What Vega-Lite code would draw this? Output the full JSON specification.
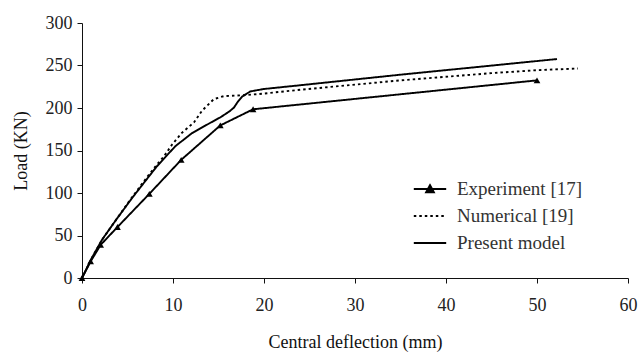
{
  "$schema": "https://vega.github.io/schema/vega-lite/v6.json",
  "autosize": {"type": "none"},
  "width": 546,
  "height": 255,
  "padding": {"left": 82, "top": 23, "right": 15, "bottom": 83},
  "background": "white",
  "config": {
    "view": {"stroke": null},
    "font": "Liberation Serif",
    "axis": {
      "grid": false,
      "domainColor": "#111",
      "domainWidth": 1,
      "tickColor": "#111",
      "tickSize": 5,
      "labelFont": "Liberation Serif",
      "labelFontSize": 18,
      "labelColor": "#222",
      "titleFont": "Liberation Serif",
      "titleFontSize": 18,
      "titleFontWeight": "normal",
      "titleColor": "#111"
    }
  },
  "data": {
    "values": [
      {"series": "Experiment [17]", "x": 0, "y": 0},
      {"series": "Experiment [17]", "x": 0.95, "y": 19.5},
      {"series": "Experiment [17]", "x": 2.05, "y": 39},
      {"series": "Experiment [17]", "x": 3.9, "y": 60},
      {"series": "Experiment [17]", "x": 7.4, "y": 99},
      {"series": "Experiment [17]", "x": 10.9, "y": 139},
      {"series": "Experiment [17]", "x": 15.2, "y": 179.5},
      {"series": "Experiment [17]", "x": 18.8, "y": 198.5},
      {"series": "Experiment [17]", "x": 50, "y": 232.5},
      {"series": "Numerical [19]", "x": 0, "y": 0},
      {"series": "Numerical [19]", "x": 1, "y": 22},
      {"series": "Numerical [19]", "x": 2.2, "y": 45},
      {"series": "Numerical [19]", "x": 3.85, "y": 70},
      {"series": "Numerical [19]", "x": 5.5, "y": 95},
      {"series": "Numerical [19]", "x": 7.1, "y": 118},
      {"series": "Numerical [19]", "x": 8.2, "y": 133},
      {"series": "Numerical [19]", "x": 9, "y": 143},
      {"series": "Numerical [19]", "x": 9.9, "y": 157},
      {"series": "Numerical [19]", "x": 11, "y": 171},
      {"series": "Numerical [19]", "x": 12.3, "y": 183},
      {"series": "Numerical [19]", "x": 13.2, "y": 197},
      {"series": "Numerical [19]", "x": 14.5, "y": 210.5},
      {"series": "Numerical [19]", "x": 15.6, "y": 214},
      {"series": "Numerical [19]", "x": 17.8, "y": 215},
      {"series": "Numerical [19]", "x": 20, "y": 217},
      {"series": "Numerical [19]", "x": 24, "y": 221.5},
      {"series": "Numerical [19]", "x": 35, "y": 232.5},
      {"series": "Numerical [19]", "x": 45, "y": 241},
      {"series": "Numerical [19]", "x": 50, "y": 244.5},
      {"series": "Numerical [19]", "x": 54.5, "y": 246.5},
      {"series": "Present model", "x": 0, "y": 0},
      {"series": "Present model", "x": 1, "y": 22},
      {"series": "Present model", "x": 2.2, "y": 45},
      {"series": "Present model", "x": 3.85, "y": 70},
      {"series": "Present model", "x": 5.5, "y": 94},
      {"series": "Present model", "x": 7.1, "y": 116},
      {"series": "Present model", "x": 8.2, "y": 131},
      {"series": "Present model", "x": 10.25, "y": 155},
      {"series": "Present model", "x": 12.1, "y": 170.5},
      {"series": "Present model", "x": 13.5, "y": 179},
      {"series": "Present model", "x": 15.2, "y": 189},
      {"series": "Present model", "x": 16.2, "y": 196},
      {"series": "Present model", "x": 16.7, "y": 200.5},
      {"series": "Present model", "x": 17.1, "y": 207},
      {"series": "Present model", "x": 17.6, "y": 213.5},
      {"series": "Present model", "x": 18.5, "y": 219.5},
      {"series": "Present model", "x": 19.95, "y": 222.3},
      {"series": "Present model", "x": 24, "y": 226.8},
      {"series": "Present model", "x": 35, "y": 239.2},
      {"series": "Present model", "x": 52.2, "y": 257.6}
    ]
  },
  "encoding": {
    "x": {
      "field": "x",
      "type": "quantitative",
      "scale": {"domain": [0, 60], "nice": false, "zero": false},
      "axis": {
        "values": [0, 10, 20, 30, 40, 50, 60],
        "title": "Central deflection (mm)",
        "labelPadding": 13,
        "titlePadding": 19,
        "labelFlush": false
      }
    },
    "y": {
      "field": "y",
      "type": "quantitative",
      "scale": {"domain": [0, 300], "nice": false},
      "axis": {
        "values": [0, 50, 100, 150, 200, 250, 300],
        "title": "Load (KN)",
        "labelPadding": 5,
        "titlePadding": 15
      }
    }
  },
  "layer": [
    {
      "mark": {"type": "line", "color": "black", "strokeWidth": 1.9},
      "encoding": {
        "strokeDash": {
          "field": "series",
          "type": "nominal",
          "scale": {
            "domain": ["Experiment [17]", "Numerical [19]", "Present model"],
            "range": [[1, 0], [2.5, 3], [1, 0]]
          },
          "legend": {
            "title": null,
            "orient": "none",
            "legendX": 338,
            "legendY": 156,
            "padding": 0,
            "symbolSize": 324,
            "symbolStrokeWidth": 2,
            "symbolStrokeColor": "black",
            "rowPadding": 7,
            "labelOffset": 17,
            "labelFont": "Liberation Serif",
            "labelFontSize": 19,
            "labelColor": "#333",
            "encode": {
              "symbols": {
                "update": {
                  "shape": {"signal": "datum.value === 'Experiment [17]' ? 'M-1.8,0L1.8,0M-0.42,0.35L0,-0.42L0.42,0.35Z' : 'M-1.8,0L1.8,0'"},
                  "fill": {"value": "black"},
                  "fillOpacity": {"value": 1},
                  "stroke": {"value": "black"}
                }
              }
            }
          }
        }
      }
    },
    {
      "transform": [{"filter": "datum.series === 'Experiment [17]'"}],
      "mark": {"type": "point", "shape": "triangle-up", "filled": true, "color": "black", "size": 45, "opacity": 1}
    }
  ]
}
